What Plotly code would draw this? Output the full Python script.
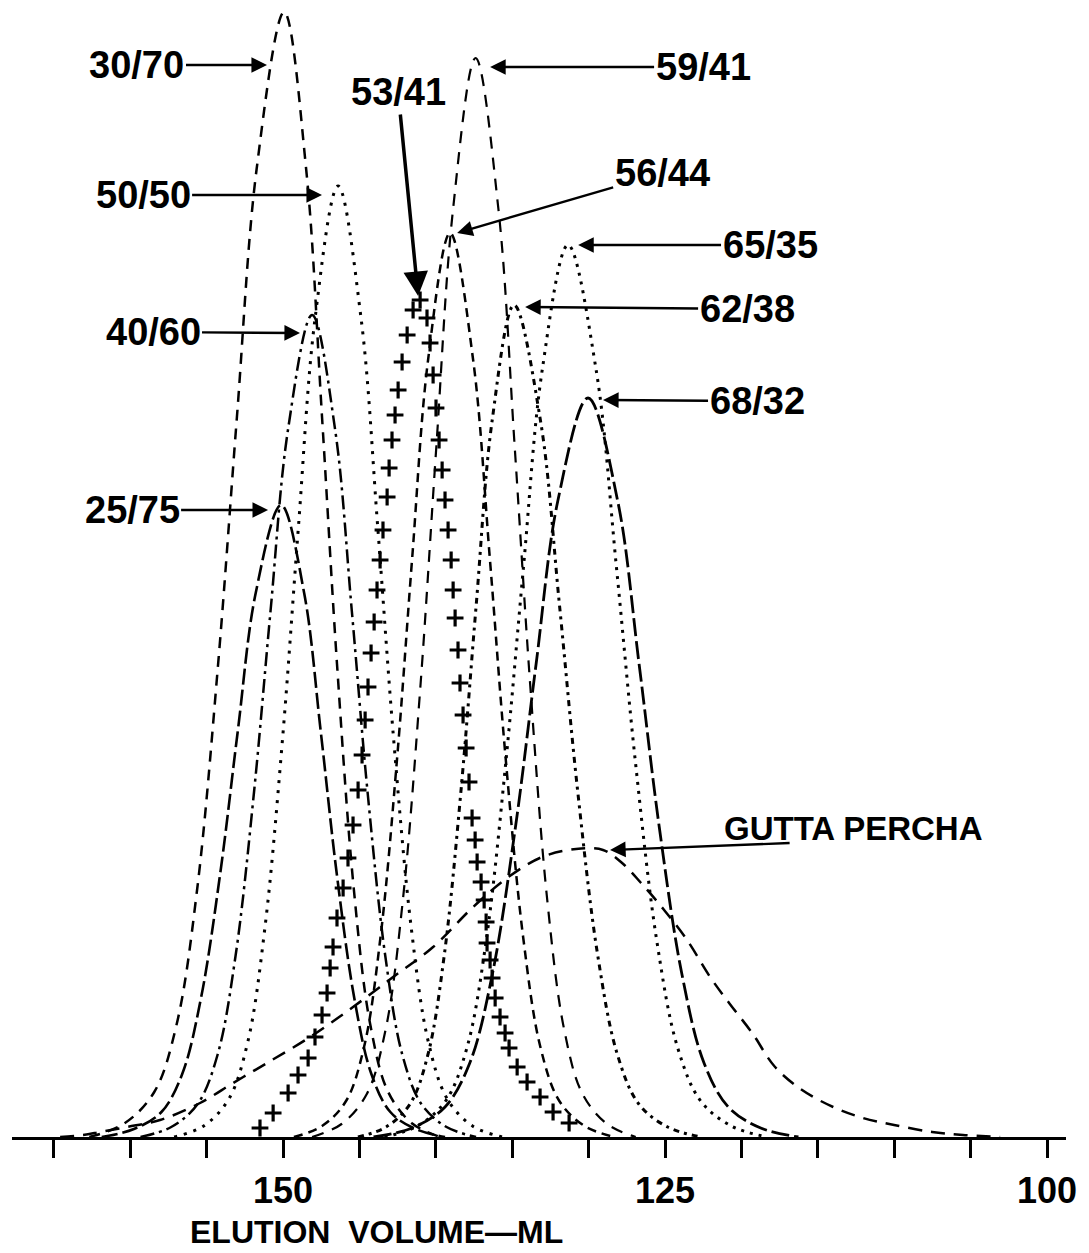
import plotly.graph_objects as go

# Elution volume (mL) and detector response for each copolymer composition
c30_70_x = [162.68, 160.39, 158.43, 156.96, 155.62, 154.25, 153.02, 151.73, 149.93,
            148.49, 147.45, 146.47, 145.37, 144.30, 143.12, 141.55, 139.71]
c30_70_y = [0, 1.35, 4.5, 11.3, 24.8, 47.3, 72.0, 96.8, 112.5,
            96.8, 72.0, 47.3, 24.8, 11.3, 4.5, 1.35, 0]

c50_50_x = [157.13, 155.20, 153.55, 152.31, 151.19, 150.03, 149.00, 147.91, 146.40,
            144.89, 143.80, 142.77, 141.61, 140.49, 139.25, 137.60, 135.67]
c50_50_y = [0, 1.1, 3.8, 9.5, 20.9, 39.9, 60.9, 81.8, 95.1,
            81.8, 60.9, 39.9, 20.9, 9.5, 3.8, 1.1, 0]

c40_60_x = [159.33, 157.32, 155.59, 154.29, 153.11, 151.90, 150.82, 149.68, 148.10,
            146.59, 145.50, 144.47, 143.31, 142.19, 140.95, 139.30, 137.37]
c40_60_y = [0, 1.0, 3.3, 8.2, 18.1, 34.5, 52.6, 70.7, 82.2,
            70.7, 52.6, 34.5, 18.1, 8.2, 3.3, 1.0, 0]

c25_75_x = [161.87, 159.76, 157.96, 156.60, 155.37, 154.10, 152.97, 151.79, 150.13,
            148.62, 147.53, 146.50, 145.34, 144.22, 142.98, 141.33, 139.40]
c25_75_y = [0, 0.8, 2.5, 6.3, 13.9, 26.5, 40.5, 54.4, 63.2,
            54.4, 40.5, 26.5, 13.9, 6.3, 2.5, 0.8, 0]

c56_44_x = [149.29, 147.45, 145.88, 144.70, 143.63, 142.53, 141.55, 140.51, 139.07,
            137.56, 136.47, 135.44, 134.28, 133.16, 131.92, 130.27, 128.34]
c56_44_y = [0, 1.1, 3.6, 9.0, 19.9, 38.0, 57.9, 77.7, 90.4,
            77.7, 57.9, 38.0, 19.9, 9.0, 3.6, 1.1, 0]

c59_41_x = [148.10, 146.17, 144.52, 143.28, 142.16, 141.00, 139.97, 138.88, 137.40,
            135.90, 134.84, 133.83, 132.71, 131.61, 130.40, 128.79, 126.92]
c59_41_y = [0, 1.3, 4.3, 10.8, 23.7, 45.3, 69.0, 92.7, 107.9,
            92.7, 69.0, 45.3, 23.7, 10.8, 4.3, 1.3, 0]

c62_38_x = [145.10, 143.26, 141.69, 140.51, 139.44, 138.34, 137.36, 136.32, 134.88,
            133.15, 131.91, 130.74, 129.42, 128.13, 126.72, 124.83, 122.63]
c62_38_y = [0, 1.0, 3.3, 8.3, 18.3, 34.9, 53.2, 71.6, 83.2,
            71.6, 53.2, 34.9, 18.3, 8.3, 3.3, 1.0, 0]

c65_35_x = [143.36, 141.21, 139.36, 137.97, 136.71, 135.42, 134.26, 133.04, 131.35,
            129.51, 128.19, 126.94, 125.54, 124.17, 122.67, 120.66, 118.32]
c65_35_y = [0, 1.1, 3.6, 8.9, 19.6, 37.5, 57.1, 76.7, 89.2,
            76.7, 57.1, 37.5, 19.6, 8.9, 3.6, 1.1, 0]

c68_32_x = [144.08, 141.56, 139.40, 137.78, 136.30, 134.79, 133.44, 132.02, 130.04,
            128.10, 126.70, 125.38, 123.90, 122.45, 120.86, 118.74, 116.27]
c68_32_y = [0, 0.9, 3.0, 7.4, 16.3, 31.0, 47.3, 63.6, 73.9,
            63.6, 47.3, 31.0, 16.3, 7.4, 3.0, 0.9, 0]

# 53/41 is plotted as "+" symbols along its trace
c53_41_x = [151.51, 150.65, 149.67, 149.02, 148.36, 147.91, 147.45, 147.12, 146.92, 146.73,
            146.47, 146.07, 145.75, 145.42, 145.09, 144.83, 144.63, 144.44, 144.24, 144.04,
            143.85, 143.65, 143.46, 143.19, 143.06, 142.87, 142.67, 142.47, 142.21, 141.88,
            141.49, 141.03,
            140.58, 140.38, 140.18, 139.99, 139.79, 139.59, 139.40, 139.20, 139.00, 138.87,
            138.74, 138.55, 138.42, 138.22, 138.02, 137.83, 137.63, 137.43, 137.30, 137.04,
            136.84, 136.71, 136.65, 136.45, 136.32, 136.12, 135.80, 135.47, 135.21, 134.68,
            134.03, 133.18, 132.33, 131.28]
c53_41_y = [0.9, 2.4, 4.4, 6.2, 7.9, 10.0, 12.2, 14.4, 16.9, 19.0,
            21.9, 24.9, 27.9, 31.2, 34.7, 38.2, 41.7, 45.0, 48.4, 51.5,
            54.7, 57.7, 60.7, 64.0, 66.9, 69.7, 72.2, 74.7, 77.5, 80.2,
            82.7, 83.7,
            81.9, 79.4, 76.2, 72.9, 69.7, 66.7, 63.7, 60.7, 57.7, 54.7,
            51.9, 48.7, 45.4, 42.2, 38.9, 35.5, 31.9, 29.7, 27.5, 25.5,
            23.7, 21.5, 19.4, 17.7, 15.9, 13.9, 12.0, 10.4, 8.9, 7.0,
            5.5, 4.0, 2.5, 1.4]

# Gutta percha: broad distribution
gp_x = [164.59, 163.09, 161.98, 160.21, 158.05, 155.43, 153.27, 151.05, 148.23, 145.42,
        142.80, 140.18, 137.56, 135.34, 133.05, 130.82, 129.06, 127.81, 126.57, 125.06,
        123.56, 122.05, 120.81, 119.30, 117.80, 116.03, 114.00, 112.04, 110.01, 107.52,
        105.50, 103.07]
gp_y = [0, 0.2, 0.5, 1.0, 1.7, 3.4, 5.4, 7.4, 10.0, 13.0,
        16.0, 19.0, 23.0, 25.9, 28.0, 28.8, 28.7, 27.4, 25.4, 22.7,
        19.7, 16.0, 13.4, 10.4, 7.0, 4.7, 3.0, 1.9, 1.2, 0.5,
        0.2, 0]

# Curve labels: text centre and arrow tip (mL, response)
label_text = ["30/70", "50/50", "40/60", "25/75", "53/41",
              "59/41", "56/44", "65/35", "62/38", "68/32"]
label_x = [159.56, 159.16, 158.51, 159.88, 142.47, 122.51, 125.19, 118.13, 119.63, 118.98]
label_y = [107.2, 94.2, 80.5, 62.7, 104.5, 107.0, 96.4, 89.2, 82.8, 73.6]
tip_x = [151.05, 147.45, 148.89, 150.98, 141.16, 136.45, 138.61, 130.69, 134.16, 129.06]
tip_y = [107.2, 94.2, 80.4, 62.7, 84.1, 107.0, 90.4, 89.2, 83.0, 73.7]

gp_label = "GUTTA PERCHA"
gp_label_pos = (112.69, 30.9)
gp_arrow_tail = (116.75, 29.4)
gp_arrow_tip = (128.60, 28.7)

tick_vals = [165, 160, 155, 150, 145, 140, 135, 130, 125, 120, 115, 110, 105, 100]
tick_text = ["", "", "", "150", "", "", "", "", "125", "", "", "", "", "100"]
x_title = "ELUTION\u00a0\u00a0VOLUME\u2014ML"

FONT = "Liberation Sans, Arial, Helvetica, sans-serif"
INK = "black"

fig = go.Figure()

line_curves = [
    (c30_70_x, c30_70_y, "11px,8px", 2.5),
    (c50_50_x, c50_50_y, "3px,7px", 3),
    (c40_60_x, c40_60_y, "14px,5px,3px,5px", 2.5),
    (c25_75_x, c25_75_y, "16px,5px", 2.6),
    (c56_44_x, c56_44_y, "9px,6px", 2.5),
    (c59_41_x, c59_41_y, "12px,9px", 2.2),
    (c62_38_x, c62_38_y, "6px,5px,3px,5px", 3),
    (c65_35_x, c65_35_y, "3px,6px", 3),
    (c68_32_x, c68_32_y, "18px,5px", 2.8),
    (gp_x, gp_y, "14px,9px", 2.5),
]
for xs, ys, dash, w in line_curves:
    fig.add_trace(go.Scatter(
        x=xs, y=ys, mode="lines",
        line=dict(color=INK, width=w, dash=dash, shape="spline", smoothing=1.0),
        hoverinfo="skip", showlegend=False,
    ))

fig.add_trace(go.Scatter(
    x=c53_41_x, y=c53_41_y, mode="markers",
    marker=dict(symbol="cross-thin", size=12, color=INK, line=dict(color=INK, width=3.2)),
    hoverinfo="skip", showlegend=False,
))

annotations = []
for i, txt in enumerate(label_text):
    heavy = txt == "53/41"
    annotations.append(dict(
        x=tip_x[i], y=tip_y[i], xref="x", yref="y",
        ax=label_x[i], ay=label_y[i], axref="x", ayref="y",
        text=txt, showarrow=True,
        arrowhead=2, arrowsize=1.4 if heavy else 1.3,
        arrowwidth=3.5 if heavy else 2.4, arrowcolor=INK,
        font=dict(family=FONT, size=38, color=INK, weight="bold"),
    ))

annotations.append(dict(
    x=gp_label_pos[0], y=gp_label_pos[1], xref="x", yref="y",
    text=gp_label, showarrow=False,
    font=dict(family=FONT, size=33, color=INK, weight="bold"),
))
annotations.append(dict(
    x=gp_arrow_tip[0], y=gp_arrow_tip[1], xref="x", yref="y",
    ax=gp_arrow_tail[0], ay=gp_arrow_tail[1], axref="x", ayref="y",
    text="", showarrow=True, arrowhead=2, arrowsize=1.3, arrowwidth=2.4, arrowcolor=INK,
))
# axis title sits below the tick labels, left of centre
annotations.append(dict(
    x=0.3454, y=-0.0836, xref="paper", yref="paper",
    xanchor="center", yanchor="middle",
    text=x_title, showarrow=False,
    font=dict(family=FONT, size=32, color=INK, weight="bold"),
))

fig.update_layout(
    width=1089, height=1253,
    margin=dict(l=12, r=23, t=0, b=116),
    paper_bgcolor="white", plot_bgcolor="white",
    showlegend=False,
    annotations=annotations,
    xaxis=dict(
        range=[167.74, 98.76], showgrid=False, zeroline=False,
        showline=True, linecolor=INK, linewidth=2.5,
        ticks="outside", ticklen=18, tickwidth=2.5, tickcolor=INK,
        tickvals=tick_vals, ticktext=tick_text, ticklabelstandoff=2,
        tickfont=dict(family=FONT, size=36, color=INK, weight="bold"),
    ),
    yaxis=dict(visible=False, range=[0, 113.7], showgrid=False, zeroline=False),
)

fig.write_html("out.html")
